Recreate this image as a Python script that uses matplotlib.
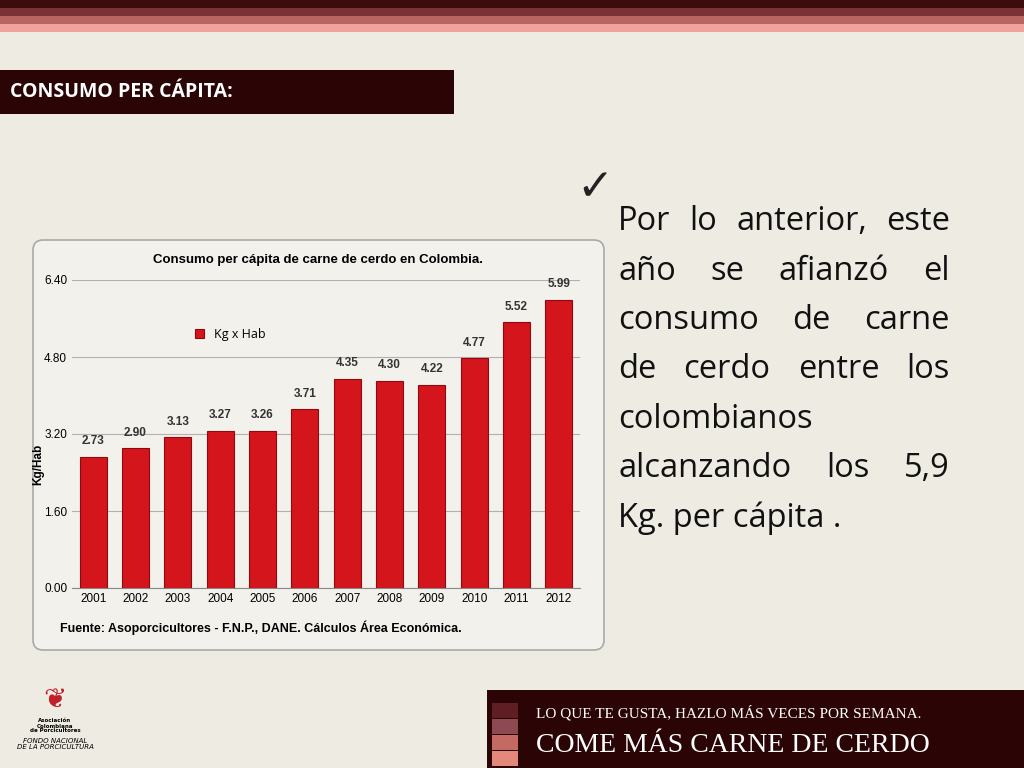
import matplotlib
matplotlib.use("Agg")
import matplotlib.pyplot as plt
from matplotlib.patches import Rectangle, FancyBboxPatch
import numpy as np

YEARS = ["2001", "2002", "2003", "2004", "2005", "2006",
         "2007", "2008", "2009", "2010", "2011", "2012"]
KG_HAB = [2.73, 2.90, 3.13, 3.27, 3.26, 3.71, 4.35, 4.30, 4.22, 4.77, 5.52, 5.99]
Y_TICKS = [0.00, 1.60, 3.20, 4.80, 6.40]
BULLET_LINES = ["Por lo anterior, este", "año se afianzó el", "consumo de carne",
                "de cerdo entre los", "colombianos", "alcanzando los 5,9",
                "Kg. per cápita ."]

BG = "#EEEBE3"
DARK = "#2B0406"

fig = plt.figure(figsize=(10.24, 7.68), dpi=100, facecolor=BG)
page = fig.add_axes([0, 0, 1, 1])
page.set_xlim(0, 1024)
page.set_ylim(768, 0)
page.axis("off")

# top stripes
for y0, c in [(0, "#3A0C0E"), (8, "#7B3236"), (16, "#B86462"), (24, "#EFA39C")]:
    page.add_patch(Rectangle((0, y0), 1024, 8, color=c, lw=0))

# section title box
page.add_patch(Rectangle((0, 70), 454, 44, color=DARK, lw=0))
page.text(10, 92, "CONSUMO PER CÁPITA:", color="white", fontsize=14,
          fontweight="bold", family="Open Sans", va="center")

# chart panel
page.add_patch(FancyBboxPatch((33, 240), 571, 410, boxstyle="round,pad=0,rounding_size=10",
                              fc="#F3F1EC", ec="#A9A9A9", lw=1.2))
page.text(318, 260, "Consumo per cápita de carne de cerdo en Colombia.", ha="center",
          va="center", fontsize=9.5, fontweight="bold", family="Liberation Sans")
page.text(60, 628, "Fuente: Asoporcicultores - F.N.P., DANE. Cálculos Área Económica.",
          va="center", fontsize=9, fontweight="bold", family="Liberation Sans")

ax = fig.add_axes([72 / 1024, 1 - 588 / 768, 508 / 1024, 308 / 768])
ax.set_facecolor("#F3F1EC")
x = np.arange(len(YEARS))
ax.bar(x, KG_HAB, width=0.64, color="#D4151C", edgecolor="#8E0A0E", lw=0.8,
       label="Kg x Hab", zorder=3)
for xi, v in zip(x, KG_HAB):
    ax.text(xi, v + 0.2, f"{v:.2f}", ha="center", va="bottom", fontsize=8.5,
            fontweight="bold", color="#333333", family="Liberation Sans")
ax.set_ylim(0, 6.40)
ax.set_xlim(-0.5, len(YEARS) - 0.5)
ax.set_yticks(Y_TICKS)
ax.set_yticklabels([f"{t:.2f}" for t in Y_TICKS], fontsize=8.5, family="Liberation Sans")
ax.set_xticks(x)
ax.set_xticklabels(YEARS, fontsize=8.5, family="Liberation Sans")
ax.tick_params(length=0)
ax.grid(axis="y", color="#B0B0B0", lw=0.8, zorder=0)
for s in ["top", "right", "left"]:
    ax.spines[s].set_visible(False)
ax.spines["bottom"].set_color("#888888")
ax.set_ylabel("Kg/Hab", fontsize=8.5, fontweight="bold", family="Liberation Sans")
ax.yaxis.set_label_coords(-0.055, 0.4)
ax.legend(loc="upper left", bbox_to_anchor=(0.22, 0.88), frameon=False,
          handlelength=0.7, handleheight=0.7, prop={"family": "Open Sans", "size": 9})

# justified bullet text
page.text(576, 188, "✓", fontsize=32, va="center", family="DejaVu Sans",
          fontweight="bold", color="#222222")
fig.canvas.draw()
renderer = fig.canvas.get_renderer()
left, right = 618, 950
fs = 23.5
for i, line in enumerate(BULLET_LINES):
    yy = 222 + i * 49.3
    words = line.split()
    last = i in (4, 6)
    if last or len(words) == 1:
        page.text(left, yy, line, fontsize=fs, family="Open Sans", va="center", color="#111111")
        continue
    objs = [page.text(0, yy, w, fontsize=fs, family="Open Sans", va="center", color="#111111")
            for w in words]
    widths = [o.get_window_extent(renderer).width for o in objs]
    gap = ((right - left) - sum(widths)) / (len(words) - 1)
    xx = left
    for o, w in zip(objs, widths):
        o.set_x(xx)
        xx += w + gap

# bottom-right banner
page.add_patch(Rectangle((487, 690), 537, 78, color=DARK, lw=0))
for y0, c in [(703, "#5E1E24"), (719, "#8E4A52"), (735, "#C56A62"), (751, "#E3897C")]:
    page.add_patch(Rectangle((492, y0), 26, 15, color=c, lw=0))
page.text(536, 713, "LO QUE TE GUSTA, HAZLO MÁS VECES POR SEMANA.", color="white",
          fontsize=11, family="Liberation Serif", va="center")
page.text(536, 745, "COME MÁS CARNE DE CERDO", color="white", fontsize=20,
          family="Liberation Serif", va="center")

# logo placeholder text
page.text(55, 700, "❦", color="#C0202A", fontsize=20, ha="center", va="center",
          family="DejaVu Sans")
page.text(55, 726, "Asociación\nColombiana\nde Porcicultores", fontsize=4, ha="center",
          va="center", fontweight="bold", linespacing=1.0)
page.text(55, 744, "FONDO NACIONAL\nDE LA PORCICULTURA", fontsize=5, ha="center",
          va="center", style="italic", linespacing=1.0)

fig.savefig("out.png", dpi=100, facecolor=BG)
